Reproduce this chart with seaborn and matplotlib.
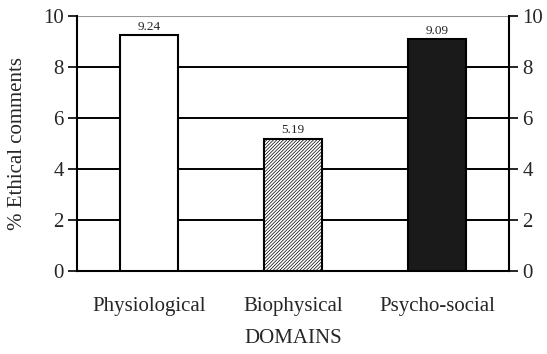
import matplotlib
matplotlib.use("Agg")
import matplotlib.pyplot as plt
import seaborn as sns
import pandas as pd

# Data
domains = ["Physiological", "Biophysical", "Psycho-social"]
values = [9.24, 5.19, 9.09]
fills = ["white", "white", "#1a1a1a"]
hatches = ["", "//////////", ""]

df = pd.DataFrame({"Domain": domains, "Pct": values})

sns.set_style("white")
plt.rcParams["font.family"] = ["Liberation Serif", "DejaVu Serif"]
plt.rcParams["hatch.linewidth"] = 0.5

fig = plt.figure(figsize=(5.47, 3.54), dpi=100)
ax = fig.add_axes([0.1408, 0.2345, 0.79, 0.7205])

sns.barplot(data=df, x="Domain", y="Pct", hue="Domain", palette=fills,
            edgecolor="black", linewidth=1.5, width=0.4, legend=False,
            zorder=3, ax=ax)
for patch, h in zip(ax.patches, hatches):
    patch.set_hatch(h)

# Horizontal grid lines behind the bars
for yv in [2, 4, 6, 8]:
    ax.axhline(yv, color="black", lw=1.4, zorder=1)
ax.axhline(10, color="#999999", lw=0.8, zorder=1)

# Value labels above each bar
for i, v in enumerate(values):
    ax.text(i, v + 0.1, f"{v:.2f}", ha="center", va="bottom", fontsize=9.5)

ax.set_ylim(0, 10)
ax.set_xlim(-0.5, 2.5)
ax.set_yticks([0, 2, 4, 6, 8, 10])
ax.set_xticks([0, 1, 2])
ax.set_xticklabels(domains, fontsize=15)
ax.set_xticks([-0.5, 0.5, 1.5, 2.5], minor=True)
ax.tick_params(axis="x", which="major", length=0, pad=19)
ax.tick_params(axis="x", which="minor", direction="out", length=6.5, width=1.4)
ax.tick_params(axis="y", direction="out", length=6.5, width=1.4, labelsize=15,
               pad=3, left=True, right=True, labelleft=True, labelright=True)

for side in ["left", "right", "bottom"]:
    ax.spines[side].set_linewidth(1.5)
    ax.spines[side].set_color("black")
ax.spines["top"].set_visible(False)

ax.set_xlabel("DOMAINS", fontsize=15, labelpad=9)
ax.set_ylabel("% Ethical comments", fontsize=15, labelpad=10)
ax.yaxis.set_label_coords(-0.115, 0.5)

fig.savefig("out.png", dpi=100)
